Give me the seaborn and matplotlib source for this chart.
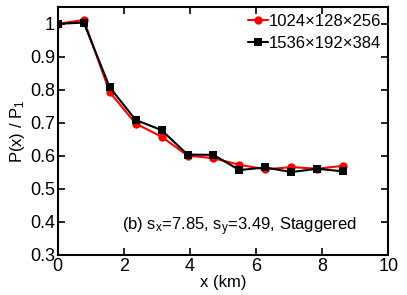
import numpy as np
import pandas as pd
import matplotlib
matplotlib.use("Agg")
import matplotlib.pyplot as plt
import seaborn as sns

# data
x_km = [0.0, 0.785, 1.57, 2.355, 3.14, 3.925, 4.71, 5.495, 6.28, 7.065, 7.85, 8.635]
p_1024 = [1.0, 1.012, 0.793, 0.698, 0.658, 0.601, 0.593, 0.573, 0.559, 0.566, 0.561, 0.570]
p_1536 = [1.0, 1.004, 0.808, 0.709, 0.678, 0.604, 0.603, 0.557, 0.565, 0.551, 0.561, 0.553]
labels = ["1024\u00d7128\u00d7256", "1536\u00d7192\u00d7384"]
xticks = [0, 2, 4, 6, 8, 10]
yticks = [0.3, 0.4, 0.5, 0.6, 0.7, 0.8, 0.9, 1.0]

df = pd.DataFrame({
    "x": x_km * 2,
    "p": p_1024 + p_1536,
    "grid": [labels[0]] * len(x_km) + [labels[1]] * len(x_km),
})

sns.set_style("ticks")
plt.rcParams["font.family"] = ["Liberation Sans", "DejaVu Sans"]
plt.rcParams["mathtext.fontset"] = "custom"
plt.rcParams["mathtext.rm"] = "Liberation Sans"
plt.rcParams["mathtext.it"] = "Liberation Sans"
plt.rcParams["text.color"] = "black"
plt.rcParams["axes.labelcolor"] = "black"

fig = plt.figure(figsize=(4.07, 2.95), dpi=100)
ax = fig.add_axes([0.142, 0.136, 0.812, 0.839])

sns.lineplot(data=df, x="x", y="p", hue="grid", style="grid",
             palette=["#ff0000", "#000000"], markers=["o", "s"], dashes=False,
             markersize=6, markeredgewidth=0, linewidth=1.5, ax=ax)

ax.set_xlim(0, 10)
ax.set_ylim(0.3, 1.05)
ax.set_xticks(xticks)
ax.set_yticks(yticks)
ax.set_yticklabels(["0.3", "0.4", "0.5", "0.6", "0.7", "0.8", "0.9", "1"])
ax.tick_params(direction="in", length=5, width=1.2, labelsize=13, pad=2,
               top=True, right=True, color="black", labelcolor="black")
for s in ax.spines.values():
    s.set_linewidth(1.5)
    s.set_color("black")

ax.set_xlabel("x (km)", fontsize=12, labelpad=0)
ax.set_ylabel("P(x) / P$_1$", fontsize=12, labelpad=2)

ax.text(1.95, 0.386, "(b) s$_x$=7.85, s$_y$=3.49, Staggered", fontsize=12,
        va="center", ha="left")

leg = ax.legend(loc="upper right", frameon=False, fontsize=12,
                handlelength=1.25, handletextpad=0.05, borderaxespad=0.1,
                labelspacing=0.4, borderpad=0.3)

fig.savefig("out.png", dpi=100)
